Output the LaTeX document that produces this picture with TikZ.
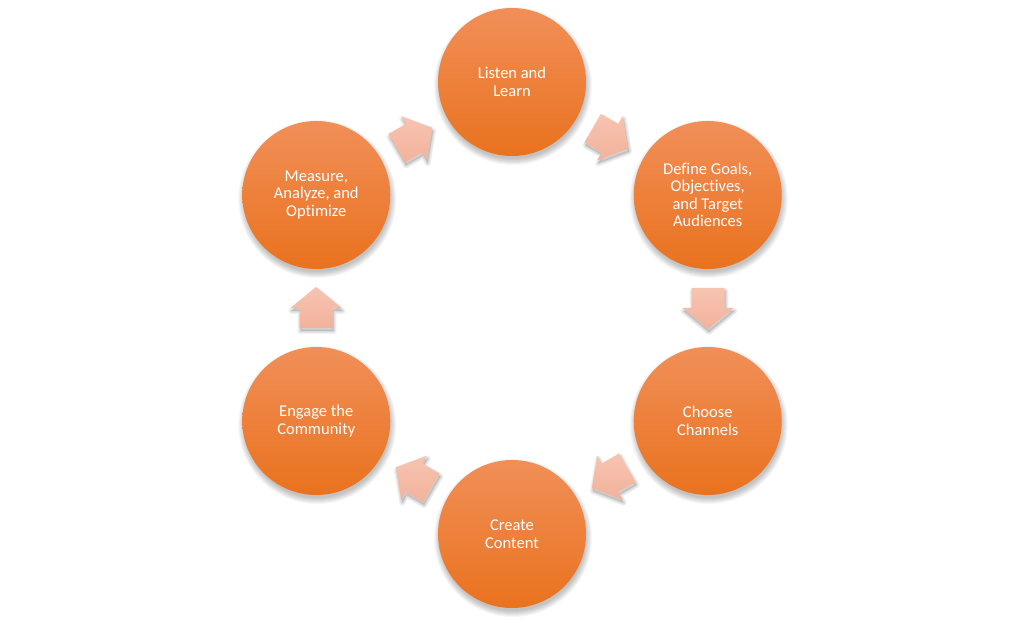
\documentclass[tikz,border=0pt]{standalone}
\usepackage{fontspec}
\setmainfont{Carlito}[Ligatures=NoCommon]
\definecolor{orTop}{RGB}{241,143,88}
\definecolor{orBot}{RGB}{233,114,30}
\definecolor{arTop}{RGB}{247,196,178}
\definecolor{arBot}{RGB}{242,178,154}
\tikzset{
  stepcircle/.style={circle, minimum size=148pt, inner sep=0pt,
    top color=orTop, bottom color=orBot, draw=none,
    text=white, align=center, font=\fontsize{16.5}{17.5}\selectfont},
  blockarrow/.style={top color=arTop, bottom color=arBot, draw=none},
  softshade/.style={fill=black, fill opacity=0.035, draw=none}
}
\begin{document}
\begin{tikzpicture}[x=1pt,y=1pt]
\useasboundingbox[fill=white] (0,0) rectangle (1024,626);
\coordinate (c) at (512,318);
% shadows of the circles
\foreach \a in {90,30,-30,-90,-150,150}{
  \foreach \k in {0,...,6}{
    \fill[softshade] ([shift={(\a:226pt)}]c) ++(1,-4) circle[radius=79-\k];
  }
}
% shadows of the arrows
\foreach \a in {60,0,-60,-120,180,120}{
  \pgfmathsetmacro{\r}{\a-90}
  \begin{scope}[shift={([shift={(\a:196pt)}]c)}, shift={(1,-3)}, rotate=\r]
    \foreach \w in {6,4,2}{
      \draw[black, draw opacity=0.05, line width=\w pt, line join=round] (-20,-16.5) -- (0,-16.5) -- (0,-25.5) -- (21,0) -- (0,25.5) -- (0,16.5) -- (-20,16.5) -- cycle;
    }
    \fill[black, fill opacity=0.12] (-20,-16.5) -- (0,-16.5) -- (0,-25.5) -- (21,0) -- (0,25.5) -- (0,16.5) -- (-20,16.5) -- cycle;
  \end{scope}
}
\node[stepcircle] (listen)  at ([shift={(90:226pt)}]c)   {Listen and\\Learn};
\node[stepcircle] (define)  at ([shift={(30:226pt)}]c)   {Define Goals,\\Objectives,\\and Target\\Audiences};
\node[stepcircle] (choose)  at ([shift={(-30:226pt)}]c)  {Choose\\Channels};
\node[stepcircle] (create)  at ([shift={(-90:226pt)}]c)  {Create\\Content};
\node[stepcircle] (engage)  at ([shift={(-150:226pt)}]c) {Engage the\\Community};
\node[stepcircle] (measure) at ([shift={(150:226pt)}]c)  {Measure,\\Analyze, and\\Optimize};
\foreach \a in {60,0,-60,-120,180,120}{
  \pgfmathsetmacro{\r}{\a-90}
  \begin{scope}[shift={([shift={(\a:196pt)}]c)}, rotate=\r]
    \path[blockarrow] (-20,-16.5) -- (0,-16.5) -- (0,-25.5) -- (21,0) -- (0,25.5) -- (0,16.5) -- (-20,16.5) -- cycle;
  \end{scope}
}
\end{tikzpicture}
\end{document}
